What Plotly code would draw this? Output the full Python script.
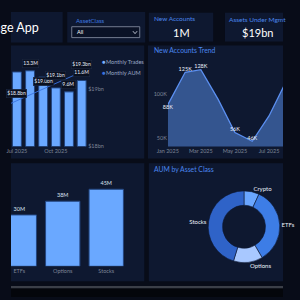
import plotly.graph_objects as go

# ---------------- data ----------------
trade_months = ["2025-07-01", "2025-08-01", "2025-09-01", "2025-10-01", "2025-11-01", "2025-12-01"]
monthly_trades_m = [13.1, 13.3, 12.2, 10.3, 9.6, 11.6]
trade_label_shown = [False, True, False, False, True, True]

aum_months = ["2025-06-01", "2025-07-01", "2025-08-01", "2025-09-01", "2025-10-01", "2025-11-01", "2025-12-01"]
monthly_aum_bn = [18.7, 18.8, 18.9, 19.0, 19.1, 19.2, 19.3]
aum_label_shown = [False, True, False, True, True, False, True]
aum_ticks_bn = [18, 19]

acct_months = ["2025-01-01", "2025-02-01", "2025-03-01", "2025-04-01", "2025-05-01",
               "2025-06-01", "2025-07-01", "2025-08-01"]
new_accounts_k = [88, 125, 128, 94, 56, 46, 75, 115]
acct_label_pos = ["bottom center", "top center", "top center", None, "top center",
                  "top center", None, "top center"]
acct_ticks_k = [50, 100]

trade_classes = ["ETFs", "Options", "Stocks"]
trades_by_class_m = [30, 38, 45]

aum_classes = ["Crypto", "ETFs", "Options", "Stocks"]
aum_by_class_bn = [1.3, 6.6, 2.5, 8.6]
aum_class_colors = ["#6aa6ff", "#3d7de6", "#a8c8ff", "#2f63c8"]

kpi_new_accounts = "1M"
kpi_aum = "$19bn"

# ---------------- helpers ----------------
W = H = 300
def px(x): return x / W
def py(y): return 1 - y / H

FONT = "Lato"
PAGE = "#080c18"
PANEL = "#0e1830"
TICK = "#7d8597"
TITLE_BLUE = "#4a86ee"
BAR_BLUE = "#6aa8ff"

fig = go.Figure()

# ---- Top-left: monthly trades (bars) + AUM (line) ----
fig.add_trace(go.Bar(
    x=trade_months, y=monthly_trades_m, name="Monthly Trades",
    marker=dict(color=BAR_BLUE, line=dict(color="#23457f", width=1)),
    width=21 * 86400000, xaxis="x", yaxis="y", showlegend=False,
))
fig.add_trace(go.Scatter(
    x=aum_months, y=monthly_aum_bn, name="Monthly AUM", mode="lines",
    line=dict(color="#3a73e0", width=0.9), xaxis="x", yaxis="y2", showlegend=False,
))

# ---- Top-right: new accounts trend ----
fig.add_trace(go.Scatter(
    x=acct_months, y=new_accounts_k, mode="lines+text",
    text=[f"{v}K" if p else "" for v, p in zip(new_accounts_k, acct_label_pos)],
    textposition=[p or "top center" for p in acct_label_pos],
    textfont=dict(family=FONT, size=5.5, color="#e8eefa"),
    line=dict(color="#5b8ff0", width=1.3), fill="tozeroy", fillcolor="#34558f",
    cliponaxis=False, xaxis="x3", yaxis="y3", showlegend=False,
))

# ---- Bottom-left: trades by asset class ----
fig.add_trace(go.Bar(
    x=trade_classes, y=trades_by_class_m,
    text=[f"{v}M" for v in trades_by_class_m], textposition="outside",
    textfont=dict(family=FONT, size=5.5, color="#d8e0ee"),
    marker=dict(color=BAR_BLUE, line=dict(color="#23457f", width=1)),
    cliponaxis=False, xaxis="x4", yaxis="y4", showlegend=False,
))

# ---- Bottom-right: AUM donut ----
cx, cy, r = 257, 229, 39.5
fig.add_trace(go.Pie(
    labels=aum_classes, values=aum_by_class_bn, hole=0.6, sort=False,
    direction="clockwise", rotation=0,
    marker=dict(colors=aum_class_colors, line=dict(color=PANEL, width=0.6)),
    textinfo="label", textposition="outside",
    textfont=dict(family=FONT, size=6, color="#e8eefa"),
    domain=dict(x=[px(cx - r), px(cx + r)], y=[py(cy + r), py(cy - r)]),
    showlegend=False,
))

# ---------------- decorations ----------------
shapes = []
def rect(x0, y0, x1, y1, fill, line=None, lw=0):
    shapes.append(dict(type="rect", xref="paper", yref="paper",
                       x0=px(x0), x1=px(x1), y0=py(y1), y1=py(y0),
                       fillcolor=fill, line=dict(color=line or fill, width=lw), layer="below"))

rect(0, 12, 57, 43, PANEL)
rect(62, 12, 148, 43, PANEL)
rect(152, 13, 223, 42, PANEL)
rect(236, 13, 300, 42, PANEL)
rect(0, 46, 147, 160, PANEL)
rect(151, 46, 300, 160, PANEL)
rect(0, 165, 147, 284, PANEL)
rect(152, 165, 300, 284, PANEL)
rect(0, 289, 300, 291.5, "#3b3f48")
rect(0, 291.5, 300, 300, "#04060b")
# dropdown box
shapes.append(dict(type="rect", xref="paper", yref="paper",
                   x0=px(67), x1=px(142), y0=py(38), y1=py(27),
                   fillcolor="#0a1226", line=dict(color="#8e97aa", width=0.8)))
shapes.append(dict(type="path", xref="paper", yref="paper",
                   path=f"M {px(134.5)} {py(31.5)} L {px(136.8)} {py(34)} L {px(139.1)} {py(31.5)}",
                   line=dict(color="#c8cedb", width=0.9)))

ann = []
def text(x, y, s, size, color, xanchor="left", yanchor="middle", **kw):
    ann.append(dict(xref="paper", yref="paper", x=px(x), y=py(y), text=s, showarrow=False,
                    xanchor=xanchor, yanchor=yanchor,
                    font=dict(family=FONT, size=size, color=color), **kw))

text(33.5, 27.5, "Brokerage App", 12.5, "#ffffff", xanchor="right")
text(69, 21, "AssetClass", 6, "#3f7be0")
text(70.5, 32.8, "All", 5.5, "#ffffff")
text(155, 19, "New Accounts", 6.5, TITLE_BLUE)
text(187.5, 32.5, kpi_new_accounts, 11, "#ffffff", xanchor="center")
text(238, 19.5, "Assets Under Mgmt", 6.5, TITLE_BLUE)
text(272, 33, kpi_aum, 11, "#ffffff", xanchor="center")
text(155, 50.5, "New Accounts Trend", 6.8, TITLE_BLUE)
text(155, 170.5, "AUM by Asset Class", 6.8, TITLE_BLUE)
# legend of the top-left chart
text(98.5, 62.5, "●", 6, "#7ab0ff")
text(103, 62.5, "Monthly Trades", 5.6, "#9aa6c2")
text(98.5, 73.5, "●", 6, "#3b74e0")
text(103, 73.5, "Monthly AUM", 5.6, "#9aa6c2")

# data labels with dark boxes
for m, v, s in zip(trade_months, monthly_trades_m, trade_label_shown):
    if s:
        ann.append(dict(xref="x", yref="y", x=m, y=v, text=f"{v}M", showarrow=False,
                        yanchor="bottom", yshift=3, bgcolor="#0a1020", bordercolor="#1f2b45",
                        borderwidth=0.5, borderpad=0.8,
                        font=dict(family=FONT, size=5, color="#e8eefa")))
for m, v, s in zip(aum_months, monthly_aum_bn, aum_label_shown):
    if s:
        ann.append(dict(xref="x", yref="y2", x=m, y=v, text=f"${v}bn", showarrow=False,
                        yanchor="bottom", yshift=3, bgcolor="#0a1020", bordercolor="#1f2b45",
                        borderwidth=0.5, borderpad=0.8,
                        font=dict(family=FONT, size=5, color="#e8eefa")))

tickfont = dict(family=FONT, size=5.5, color=TICK)
fig.update_layout(
    width=W, height=H, margin=dict(l=0, r=0, t=0, b=0),
    paper_bgcolor=PAGE, plot_bgcolor="rgba(0,0,0,0)",
    font=dict(family=FONT), shapes=shapes, annotations=ann,
    bargap=0.21,
    xaxis=dict(domain=[0, px(84)], type="date", range=["2025-06-17", "2025-12-14"],
               tick0="2025-01-01", dtick="M3", tickformat="%b %Y", tickfont=tickfont,
               showgrid=False, zeroline=False, showline=False, ticks="", anchor="y"),
    yaxis=dict(domain=[py(148), py(60)], range=[0, 88 / 5.75], visible=False, anchor="x"),
    yaxis2=dict(overlaying="y", side="right", range=[18, 18 + 88 / 58],
                tickmode="array", tickvals=aum_ticks_bn,
                ticktext=[f"${v}bn" for v in aum_ticks_bn], tickfont=tickfont,
                showgrid=False, zeroline=False, showline=False, ticks="", anchor="x"),
    xaxis3=dict(domain=[px(173), 1], type="date", range=["2025-01-01", "2025-07-26"],
                tick0="2025-01-01", dtick="M2", tickformat="%b %Y", tickfont=tickfont,
                showgrid=False, zeroline=False, showline=False, ticks="", anchor="y3"),
    yaxis3=dict(domain=[py(148), py(58)], range=[40, 142], tickmode="array",
                tickvals=acct_ticks_k, ticktext=[f"{v}K" for v in acct_ticks_k],
                tickfont=tickfont, showgrid=False, zeroline=False, showline=False,
                ticks="", anchor="x3"),
    xaxis4=dict(domain=[0, px(141)], type="category", range=[-0.19, 2.75], tickfont=tickfont,
                showgrid=False, zeroline=False, showline=False, ticks="", anchor="y4"),
    yaxis4=dict(domain=[py(269), py(180)], range=[0, 89 / 1.73], visible=False, anchor="x4"),
)

fig.write_html("out.html")
